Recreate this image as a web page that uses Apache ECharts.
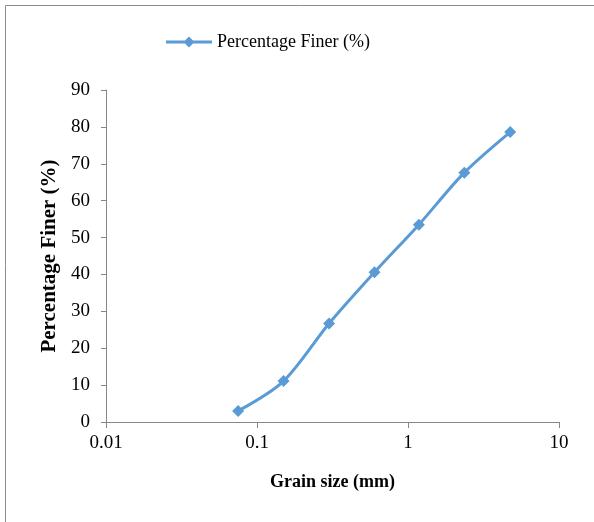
<!DOCTYPE html>
<html><head><meta charset="utf-8">
<script src="https://cdn.jsdelivr.net/npm/echarts@6/dist/echarts.min.js"></script>
<style>html,body{margin:0;padding:0;background:#fff}#c{width:594px;height:522px}</style>
</head><body><div id="c"></div>
<script>
const grainSize = [0.075, 0.15, 0.3, 0.6, 1.18, 2.36, 4.75];
const percentFiner = [3.0, 11.1, 26.7, 40.6, 53.5, 67.6, 78.6];
const seriesName = 'Percentage Finer (%)';
const xAxisName = 'Grain size (mm)';
const yAxisName = 'Percentage Finer (%)';

const chart = echarts.init(document.getElementById('c'), null, {renderer: 'canvas'});
const font = '"Liberation Serif", "Times New Roman", serif';
const legendIcon = 'path://M0,4.5 L46,4.5 L46,7.5 L0,7.5 Z M17.5,6 L23,0.5 L28.5,6 L23,11.5 Z';
chart.setOption({
  animation: false,
  backgroundColor: '#fff',
  graphic: [{type: 'rect', shape: {x: 5.5, y: 5.5, width: 700, height: 700}, style: {fill: 'none', stroke: '#8c8c8c', lineWidth: 1}, silent: true}],
  legend: {
    top: 33, left: 166, padding: 0,
    itemWidth: 46, itemHeight: 12, itemGap: 4,
    textStyle: {fontFamily: font, fontSize: 18, color: '#000'},
    data: [{name: seriesName, icon: legendIcon}]
  },
  grid: {left: 106, right: 35, top: 90, bottom: 100, containLabel: false},
  xAxis: {
    type: 'log', logBase: 10, min: 0.01, max: 10,
    name: xAxisName, nameLocation: 'middle', nameGap: 51,
    nameTextStyle: {fontFamily: font, fontSize: 18, fontWeight: 'bold', color: '#000'},
    axisLine: {lineStyle: {color: '#868686', width: 1}},
    axisTick: {show: true, inside: false, length: 6, lineStyle: {color: '#868686'}},
    minorTick: {show: false},
    splitLine: {show: false},
    axisLabel: {fontFamily: font, fontSize: 19, color: '#000', margin: 12,
      formatter: v => String(+v.toPrecision(3))}
  },
  yAxis: {
    type: 'value', min: 0, max: 90, interval: 10,
    name: yAxisName, nameLocation: 'middle', nameGap: 41,
    nameTextStyle: {fontFamily: font, fontSize: 21, fontWeight: 'bold', color: '#000'},
    axisLine: {show: true, lineStyle: {color: '#868686', width: 1}},
    axisTick: {show: true, length: 5, lineStyle: {color: '#868686'}},
    splitLine: {show: false},
    axisLabel: {fontFamily: font, fontSize: 19, color: '#000', margin: 16}
  },
  series: [{
    name: seriesName, type: 'line', smooth: 0.3,
    data: grainSize.map((g, i) => [g, percentFiner[i]]),
    symbol: 'diamond', symbolSize: 12,
    lineStyle: {color: '#5B9BD5', width: 3},
    itemStyle: {color: '#5B9BD5'}
  }]
});
</script></body></html>
